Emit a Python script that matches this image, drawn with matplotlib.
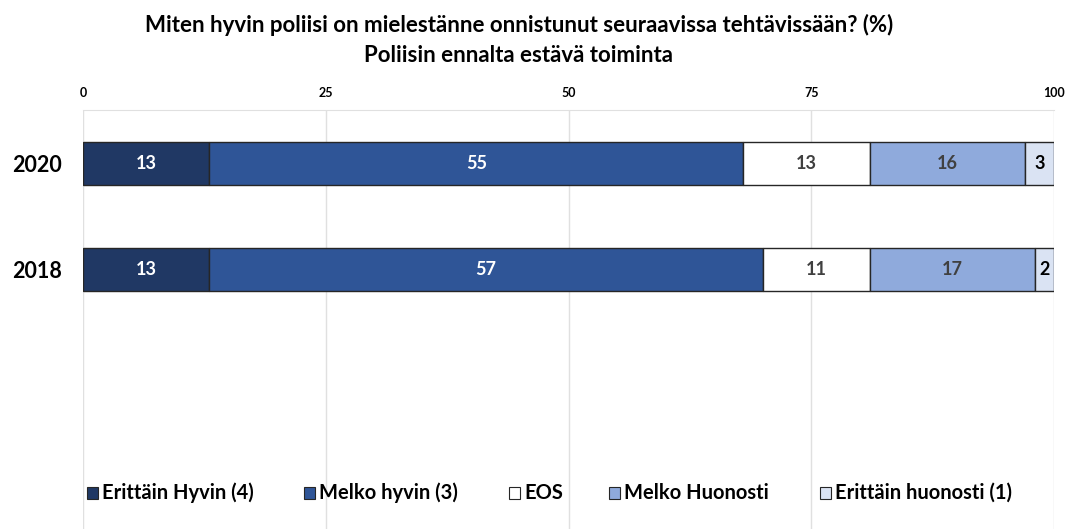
import matplotlib
matplotlib.use("Agg")
import matplotlib.pyplot as plt
from matplotlib.patches import Rectangle
import numpy as np

plt.rcParams['font.family'] = ['Lato', 'DejaVu Sans']

years = ["2020", "2018"]
categories = ["Erittäin Hyvin (4)", "Melko hyvin (3)", "EOS", "Melko Huonosti", "Erittäin huonosti (1)"]
values = {
    "Erittäin Hyvin (4)": [13, 13],
    "Melko hyvin (3)": [55, 57],
    "EOS": [13, 11],
    "Melko Huonosti": [16, 17],
    "Erittäin huonosti (1)": [3, 2],
}
colors = ["#203864", "#2F5597", "#FFFFFF", "#8FAADC", "#DAE3F3"]
text_colors = ["white", "white", "#404040", "#404040", "black"]
xticks = [0, 25, 50, 75, 100]

W, H = 1077, 529
fig = plt.figure(figsize=(W / 100, H / 100), dpi=100)
ax = fig.add_axes([83 / W, 0, (1054 - 83) / W, 1 - 110 / H])

y = np.arange(len(years))
left = np.zeros(len(years))
for cat, col, tc in zip(categories, colors, text_colors):
    v = np.array(values[cat], dtype=float)
    bars = ax.barh(y, v, left=left, height=0.405, color=col, edgecolor="#262626",
                   linewidth=1.0, zorder=3)
    for b, val in zip(bars, v):
        ax.text(b.get_x() + b.get_width() / 2, b.get_y() + b.get_height() / 2,
                f"{int(val)}", ha="center", va="center", color=tc,
                fontsize=13, fontweight="bold", zorder=4)
    left += v

ax.set_xlim(0, 100)
ax.set_ylim(3.45, -0.505)
ax.set_xticks(xticks)
ax.xaxis.tick_top()
ax.tick_params(axis="x", length=0, pad=8, labelsize=9)
for lab in ax.get_xticklabels():
    lab.set_fontweight("bold")
ax.set_yticks(y)
ax.set_yticklabels(years, fontsize=15.5, fontweight="bold")
ax.tick_params(axis="y", length=0, pad=15)
ax.grid(axis="x", color="#E0E0E0", linewidth=1, zorder=0)
for s in ["left", "right", "bottom"]:
    ax.spines[s].set_visible(False)
ax.spines["top"].set_color("#E0E0E0")

fig.text(519 / W, 1 - 25 / H, "Miten hyvin poliisi on mielestänne onnistunut seuraavissa tehtävissään? (%)",
         ha="center", va="center", fontsize=16, fontweight="bold")
fig.text(519 / W, 1 - 55 / H, "Poliisin ennalta estävä toiminta",
         ha="center", va="center", fontsize=16, fontweight="bold")

# legend
leg_x = [87, 304, 509, 609, 820]
ly = 493
for xpos, cat, col in zip(leg_x, categories, colors):
    fig.patches.append(Rectangle((xpos / W, (H - ly - 6) / H), 11 / W, 12 / H,
                                 transform=fig.transFigure, facecolor=col,
                                 edgecolor="#262626", linewidth=0.8))
    fig.text((xpos + 15) / W, 1 - ly / H, cat, ha="left", va="center",
             fontsize=14.5, fontweight="bold")

fig.savefig("out.png", dpi=100)
